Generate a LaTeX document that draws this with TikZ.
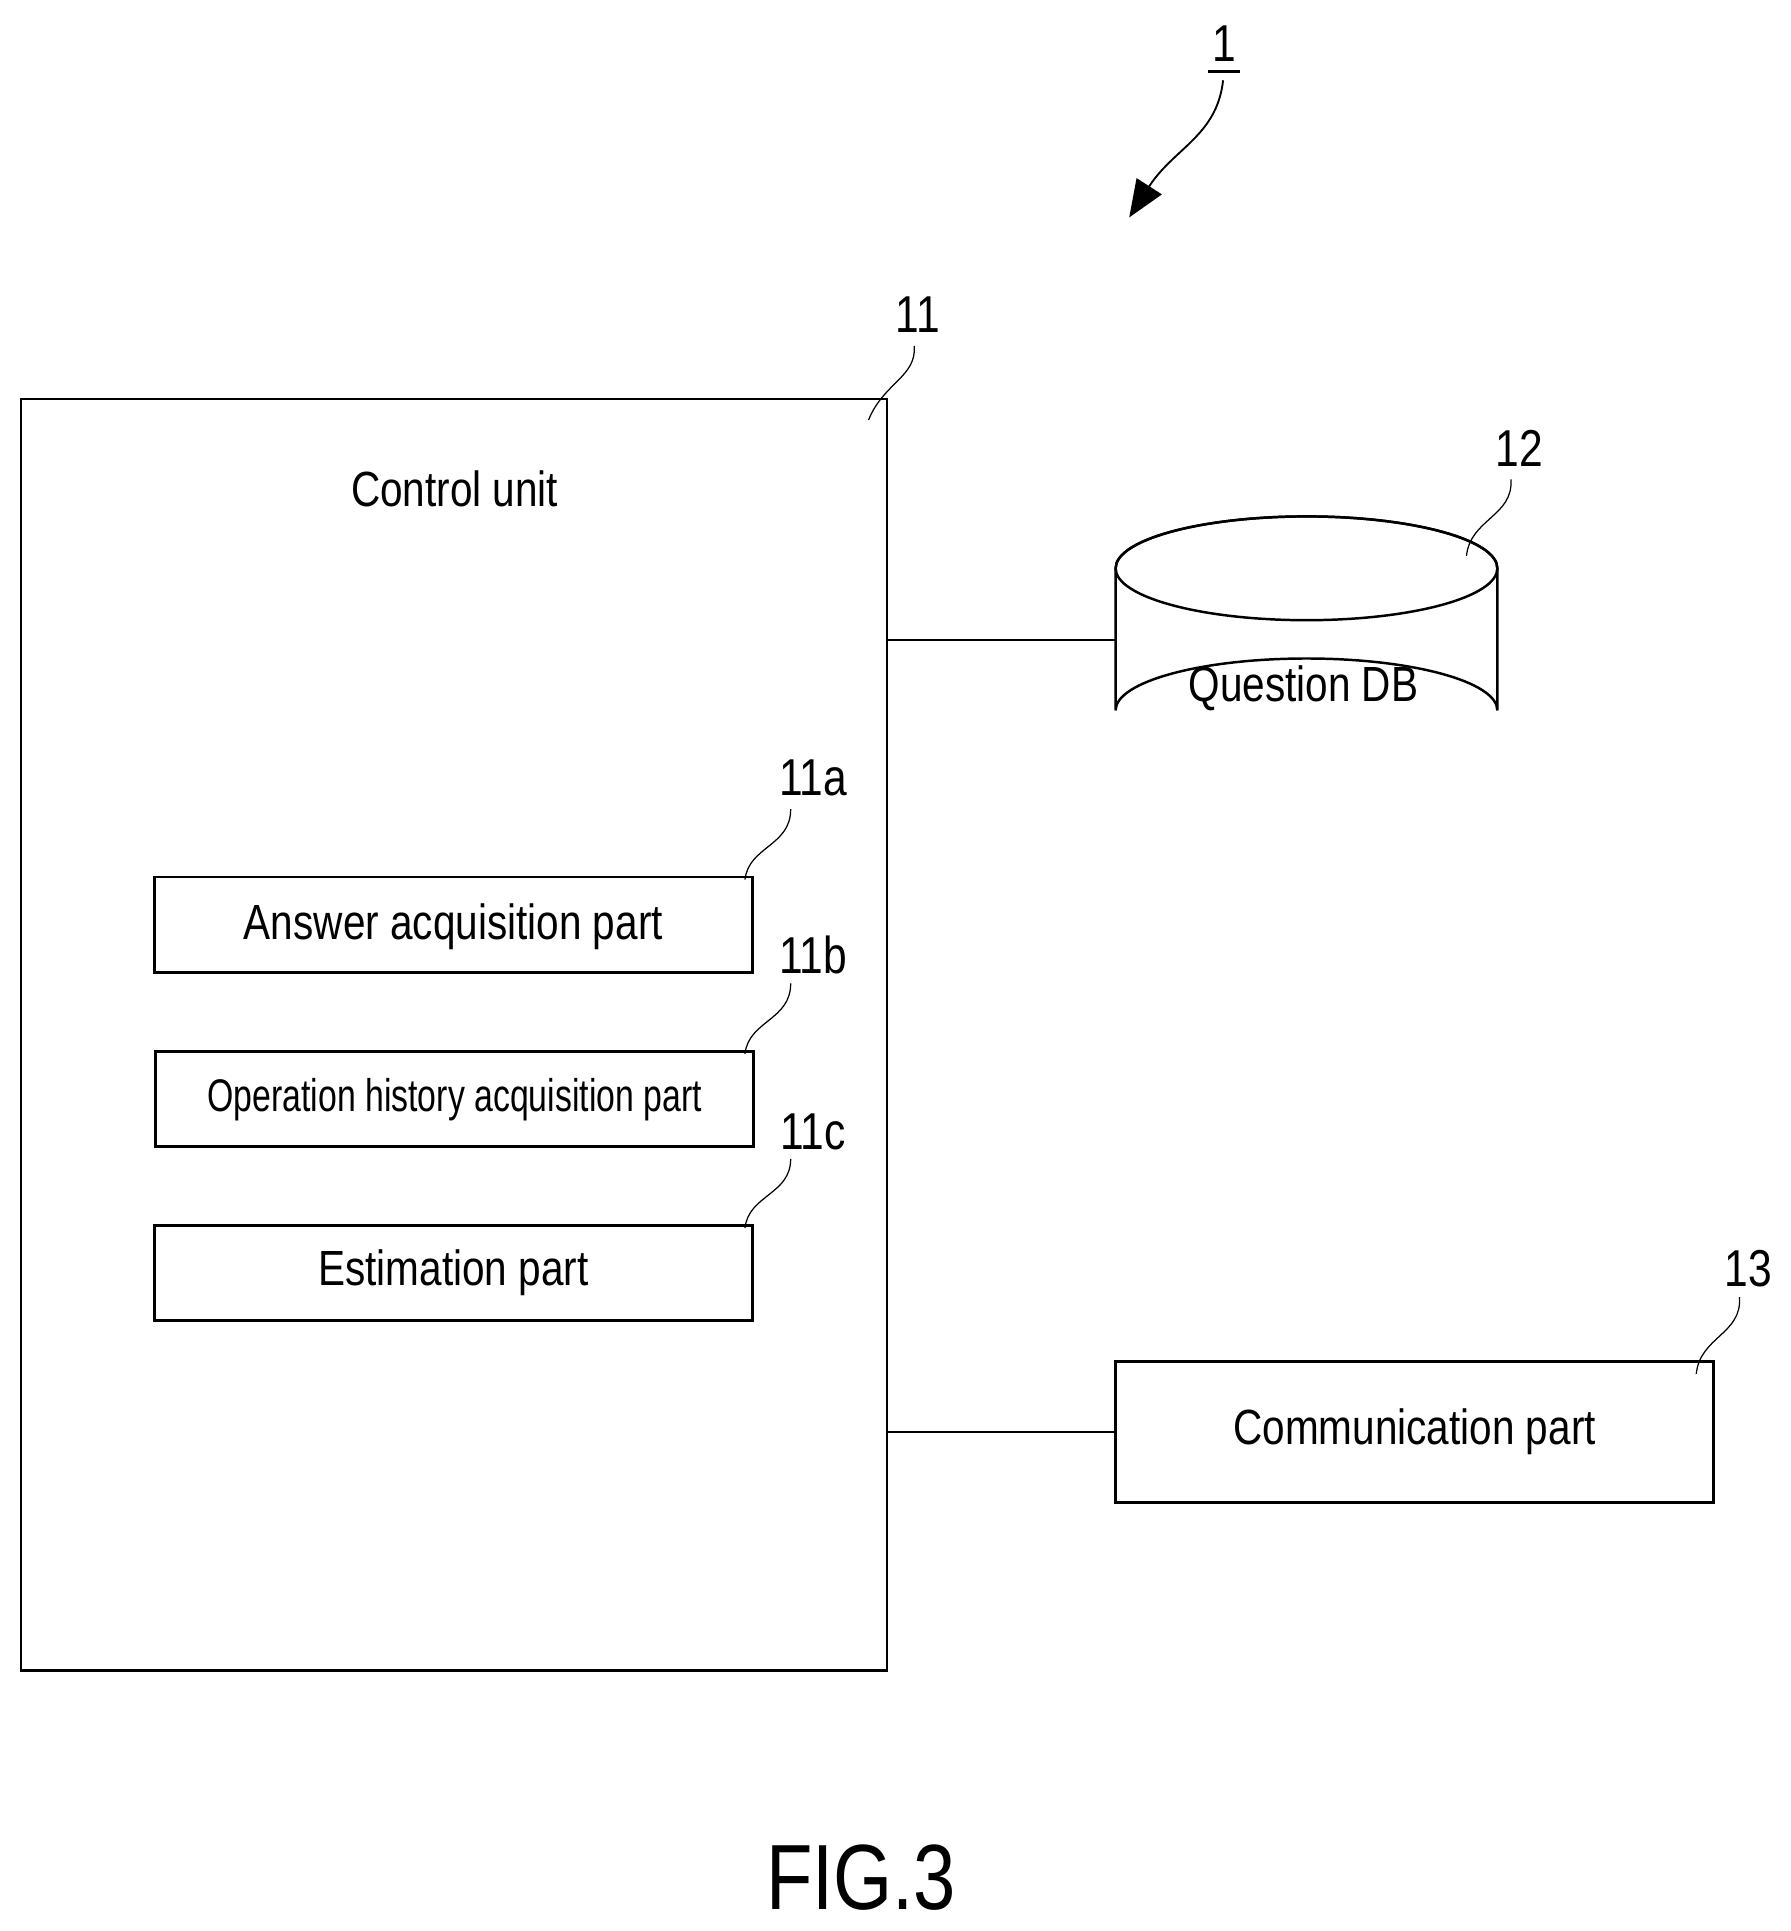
\documentclass[tikz,border=0pt]{standalone}
\usepackage{fontspec}
\setmainfont{Liberation Sans}[FakeStretch=0.82]
\usetikzlibrary{arrows.meta}
\begin{document}
\begin{tikzpicture}[x=1pt,y=-1pt,
  box/.style={draw,line width=2pt},
  lbl/.style={font=\fontsize{40}{44}\selectfont},
  num/.style={font=\fontsize{42}{46}\selectfont},
  lead/.style={line width=1pt}]
\useasboundingbox (0,0) rectangle (1449,1563);
% control unit
\draw[box] (17,323) rectangle (718,1352);
\node[lbl] (cu) at (368,396) {Control unit};
\node[num] (n11) at (743,255) {11};
\coordinate (c11) at (703,340);
\draw[lead] (c11) .. controls (715,310) and (742,305) .. (740,280);
% sub boxes
\draw[box] (125,710) rectangle (609,787);
\node[lbl] (a) at (367,750) {Answer acquisition part};
\node[num] (n11a) at (658,630) {11a};
\draw[lead] (603,712) .. controls (606,685) and (640,685) .. (640,655);
\draw[box] (126,851) rectangle (610,928);
\node[lbl] (b) at (368,890) {\fontsize{37}{40}\selectfont\addfontfeature{FakeStretch=0.74}Operation history acquisition part};
\node[num] (n11b) at (658,773) {11b};
\draw[lead] (603,853) .. controls (606,826) and (640,826) .. (640,796);
\draw[box] (125,992) rectangle (609,1069);
\node[lbl] (c) at (367,1030) {Estimation part};
\node[num] (n11c) at (658,916) {11c};
\draw[lead] (603,994) .. controls (606,967) and (640,967) .. (640,938);
% cylinder
\draw[box] (903,460) arc[start angle=180,end angle=360,x radius=154.5,y radius=42]
  -- (1212,575) arc[start angle=0,end angle=-180,x radius=154.5,y radius=42] -- cycle;
\draw[box] (1057.5,460) ellipse[x radius=154.5,y radius=42];
\node[lbl] (db) at (1055,557) {Question DB};
\node[num] (n12) at (1230,363) {12};
\draw[lead] (1187,450) .. controls (1190,420) and (1225,418) .. (1223,388);
% comm
\draw[box] (903,1102) rectangle (1387,1216);
\node[lbl] (cp) at (1145,1159) {Communication part};
\node[num] (n13) at (1415,1027) {13};
\draw[lead] (1373,1112) .. controls (1376,1082) and (1410,1080) .. (1408,1050);
% connectors
\draw[line width=2pt] (718,518) -- (903,518);
\draw[line width=2pt] (718,1159) -- (903,1159);
% 1
\node[num] (n1) at (991,35) {1};
\draw[line width=2pt] (978,58) -- (1004,58);
\draw[line width=1.5pt,-{Triangle[length=30pt,width=24pt]}] (990,65) .. controls (985,110) and (950,120) .. (914,176);
\node[font=\fontsize{75}{80}\selectfont] (fig) at (697,1520) {FIG.3};
\end{tikzpicture}
\end{document}
